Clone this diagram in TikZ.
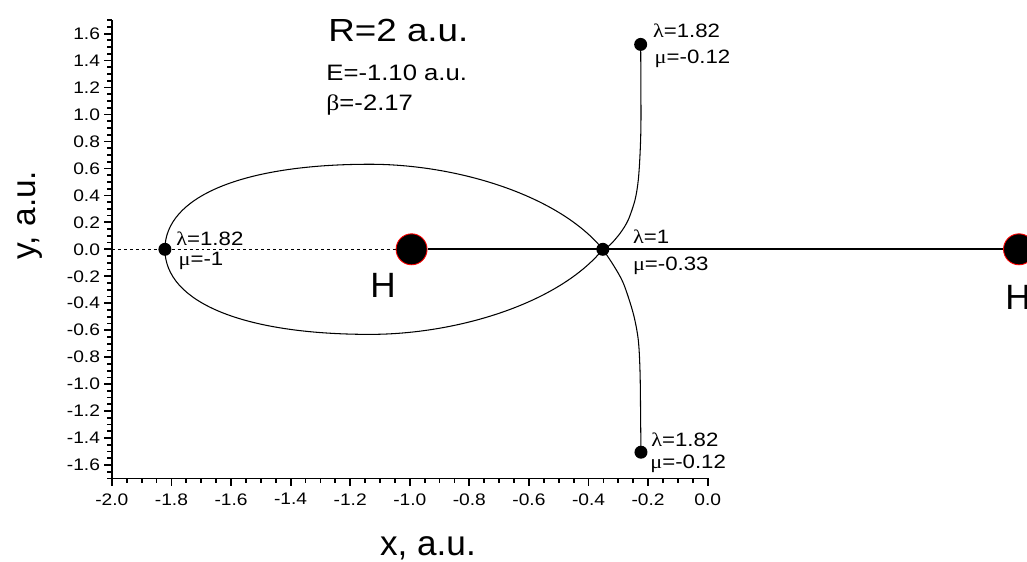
\documentclass[tikz,border=0pt]{standalone}
\usepackage{fontspec}
\setmainfont[FakeStretch=1.15]{Liberation Sans}
\newfontfamily\grk[FakeStretch=1.15]{Liberation Serif}
\newfontfamily\axfont{Liberation Sans}
\usetikzlibrary{positioning}

\begin{document}
\begin{tikzpicture}[x=5.958cm, y=2.696cm,
    dot/.style={circle, fill=black, inner sep=0pt, minimum size=0.26cm},
    atom/.style={circle, fill=black, draw=red, line width=0.5pt, inner sep=0pt, minimum size=0.62cm},
    qn/.style={anchor=base west, inner sep=0pt, font={\fontsize{11}{13}\selectfont}},
    ticklbl/.style={inner sep=0pt, font={\fontsize{9.5}{11}\selectfont}},
    axlbl/.style={inner sep=0pt, font={\axfont\fontsize{20}{24}\selectfont}}]
    \useasboundingbox (-2.3756,-2.3123) rectangle (1.0718,1.8494);

    % axes and ticks
    \draw[line width=1.1pt] (-2,1.7) -- (-2,-1.7) -- (0,-1.7);
    \foreach \i in {-34,...,34}
        \draw[line width=1pt] (-2,\i*0.05) -- ++(-0.09cm,0);
    \foreach \i in {-40,...,0}
        \draw[line width=1pt] (\i*0.05,-1.7) -- ++(0,-0.09cm);
    \foreach \t [count=\k] in {-1.6,-1.4,-1.2,-1.0,-0.8,-0.6,-0.4,-0.2,0.0,0.2,0.4,0.6,0.8,1.0,1.2,1.4,1.6}
        \draw[line width=1pt] (-2,\t) -- ++(-0.16cm,0) node[ticklbl, anchor=east, xshift=-0.06cm] (yt\k) {\t};
    \foreach \t [count=\k] in {-2.0,-1.8,-1.6,-1.4,-1.2,-1.0,-0.8,-0.6,-0.4,-0.2,0.0}
        \draw[line width=1pt] (\t,-1.7) -- ++(0,-0.16cm) node[ticklbl, anchor=north, yshift=-0.12cm] (xt\k) {\t};
    \node[axlbl, anchor=base] (xlbl) at (-0.939,-2.268) {x, a.u.};
    \node[axlbl, rotate=90, anchor=base, font={\axfont\fontsize{19}{23}\selectfont}] (ylbl) at (-2.258,0.254) {y, a.u.};

    % molecular axis
    \coordinate (o) at (-2,0);
    \coordinate (xe) at (0,0);
    \draw[line width=0.5pt, dash pattern=on 1.7pt off 1.7pt] (o) -- (xe);

    \node[atom] (H1) at (-0.994,0) {};
    \node[atom] (H2) at (1.045,0) {};
    \draw[line width=1.1pt] (H1) -- (H2);

    \node[dot] (p1) at (-1.822,0) {};
    \node[dot] (sp) at (-0.352,0) {};
    \node[dot] (p2) at (-0.225,1.52) {};
    \node[dot] (p3) at (-0.224,-1.505) {};

    % trajectories
    \draw[line width=0.6pt] (sp.center) .. controls (-0.50,0.40) and (-0.84,0.631) .. (-1.134,0.631)
        .. controls (-1.561,0.631) and (-1.822,0.391) .. (p1.center)
        .. controls (-1.822,-0.391) and (-1.561,-0.631) .. (-1.134,-0.631)
        .. controls (-0.84,-0.631) and (-0.50,-0.40) .. (sp.center);
    \draw[line width=0.6pt] plot[smooth] coordinates {(p2) (-0.224,0.959) (-0.227,0.712) (-0.233,0.514) (-0.244,0.366) (-0.267,0.217) (-0.294,0.119) (-0.328,0.032) (sp)};
    \draw[line width=0.6pt] plot[smooth] coordinates {(sp) (-0.317,-0.116) (-0.283,-0.252) (-0.250,-0.475) (-0.233,-0.673) (-0.227,-0.920) (-0.225,-1.291) (p3)};

    % labels
    \node[anchor=base west, inner sep=0pt, font={\fontsize{18.2}{22}\selectfont}] (title) at (-1.2745,1.540) {R=2 a.u.};
    \node[anchor=base west, inner sep=0pt, font={\fontsize{12.7}{15}\selectfont}] (energy) at (-1.281,1.2493) {E=-1.10 a.u.};
    \node[anchor=base west, inner sep=0pt, font={\fontsize{12.7}{15}\selectfont}] (beta) at (-1.281,1.033) {{\grk β}=-2.17};

    \node[qn] (l1) at (-1.7848,0.0267) {{\grk λ}=1.82};
    \node[qn] (m1) at (-1.777,-0.1165) {{\grk μ}=-1};
    \node[qn] (l0) at (-0.2518,0.0445) {{\grk λ}=1};
    \node[qn] (m0) at (-0.2518,-0.1588) {{\grk μ}=-0.33};
    \node[qn] (l2) at (-0.1846,1.5727) {{\grk λ}=1.82};
    \node[qn] (m2) at (-0.179,1.380) {{\grk μ}=-0.12};
    \node[qn] (l3) at (-0.1903,-1.464) {{\grk λ}=1.82};
    \node[qn] (m3) at (-0.1937,-1.625) {{\grk μ}=-0.12};

    \node[axlbl, anchor=base] (H1lbl) at (-1.0897,-0.361) {H};
    \node[axlbl, anchor=base west] (H2lbl) at (0.998,-0.450) {H};
\end{tikzpicture}
\end{document}
